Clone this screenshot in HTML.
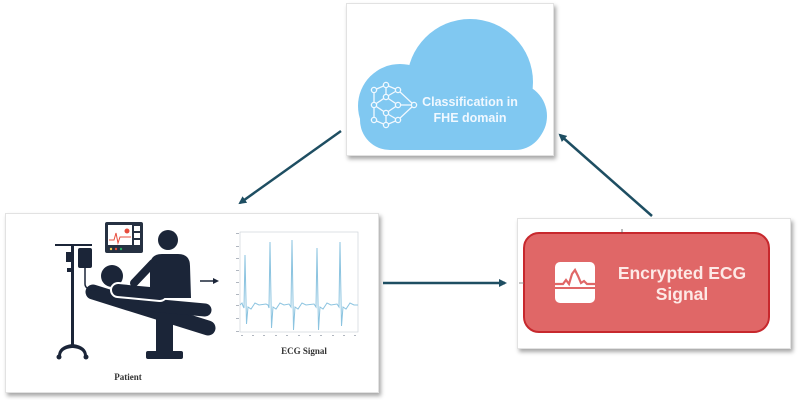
<!DOCTYPE html>
<html><head><meta charset="utf-8"><style>
html,body{margin:0;padding:0;width:800px;height:400px;background:#fff;overflow:hidden}
.box{position:absolute;background:#fff;border:1px solid #e2e2e2;box-shadow:2px 3px 4px rgba(0,0,0,0.35)}
svg{position:absolute;left:0;top:0}
</style></head><body>
<div class="box" style="left:346px;top:3px;width:206px;height:151px"></div>
<div class="box" style="left:5px;top:213px;width:372px;height:178px"></div>
<div class="box" style="left:517px;top:218px;width:272px;height:129px"></div>
<svg width="800" height="400" viewBox="0 0 800 400" xmlns="http://www.w3.org/2000/svg">
<defs>
<marker id="ah" markerWidth="8" markerHeight="8" refX="6" refY="4" orient="auto" markerUnits="userSpaceOnUse">
<path d="M0,0 L8,4 L0,8 Z" fill="#1e4e62"/></marker>
</defs>
<!-- Cloud -->
<g fill="#80c8f1">
<circle cx="470" cy="82" r="63"/>
<circle cx="400" cy="106" r="42"/>
<circle cx="514" cy="116" r="33"/>
<circle cx="390" cy="120" r="30"/>
<rect x="390" y="100" width="125" height="50"/>
<circle cx="515" cy="120" r="30"/>
</g>
<!-- NN icon -->
<g stroke="#f2f9ff" stroke-width="1.3" fill="none">
<path d="M374,90 L386,85 L398,90 L414,105 L398,120 L386,125 L374,120 M374,105 L386,97 L398,90 M374,105 L386,113 L398,120 M386,85 L386,97 M386,113 L386,125 M374,90 L374,105 L374,120 M386,97 L398,105 L386,113 M398,105 L414,105"/>
<g fill="#80c8f1">
<circle cx="374" cy="90" r="2.6"/><circle cx="374" cy="105" r="2.6"/><circle cx="374" cy="120" r="2.6"/>
<circle cx="386" cy="85" r="2.6"/><circle cx="386" cy="97" r="2.6"/><circle cx="386" cy="113" r="2.6"/><circle cx="386" cy="125" r="2.6"/>
<circle cx="398" cy="90" r="2.6"/><circle cx="398" cy="105" r="2.6"/><circle cx="398" cy="120" r="2.6"/>
<circle cx="414" cy="105" r="2.6"/>
</g></g>
<g font-family="Liberation Sans, sans-serif" font-weight="bold" font-size="12.5" fill="#f0f8ff" text-anchor="middle">
<text x="470" y="106">Classification in</text>
<text x="470" y="122">FHE domain</text>
</g>

<!-- Arrows -->
<g stroke="#1e4e62" stroke-width="2.5" fill="none">
<line x1="341" y1="131" x2="240" y2="203" marker-end="url(#ah)"/>
<line x1="652" y1="216" x2="560" y2="135" marker-end="url(#ah)"/>
<line x1="383" y1="283" x2="505" y2="283" marker-end="url(#ah)"/>
</g>
<line x1="200" y1="281" x2="214" y2="281" stroke="#1b2538" stroke-width="1.5"/>
<path d="M213,278 L219,281 L213,284 Z" fill="#1b2538"/>

<!-- Patient scene -->
<g fill="#1b2538" stroke="none">
<rect x="71" y="244" width="3" height="104"/>
<rect x="55" y="244" width="37" height="2"/>
<rect x="78" y="248" width="14" height="20" rx="2"/>
<rect x="66" y="252" width="7" height="10"/>
<rect x="67" y="268" width="6" height="4"/>
<path d="M72,344 Q58,346 58,356 L61,356 Q61,349 72,348 Z"/>
<path d="M73,344 Q87,346 87,356 L84,356 Q84,349 73,348 Z"/>
<circle cx="59" cy="357" r="2.5"/><circle cx="86" cy="357" r="2.5"/>
<rect x="105" y="222" width="38" height="31" rx="2" fill="#263142"/>
<rect x="108" y="225" width="24" height="20" fill="#fff"/>
<rect x="134" y="226" width="6" height="5" fill="#fff"/><rect x="134" y="233" width="6" height="5" fill="#fff"/><rect x="134" y="240" width="6" height="5" fill="#fff"/>
<circle cx="111" cy="249" r="1.2" fill="#f2c94c"/><circle cx="116" cy="249" r="1.2" fill="#e74c3c"/><circle cx="121" cy="249" r="1.2" fill="#27ae60"/>
<path d="M93,292 L208,328" stroke="#1b2538" stroke-width="15" stroke-linecap="round"/>
<path d="M150,305 L205,310" stroke="#1b2538" stroke-width="13" stroke-linecap="round"/>
<rect x="156" y="318" width="17" height="36"/>
<rect x="146" y="351" width="37" height="8" rx="2"/>
<circle cx="112" cy="276" r="11"/>
<path d="M118,290 L160,294" stroke="#fff" stroke-width="16" stroke-linecap="round"/>
<path d="M118,290 L160,294" stroke="#1b2538" stroke-width="12" stroke-linecap="round"/>
<circle cx="168" cy="240" r="10"/>
<path d="M150,298 L150,266 Q150,254 162,254 L178,254 Q190,254 190,266 L191,298 Z"/>
<path d="M153,263 L134,283" stroke="#1b2538" stroke-width="8" stroke-linecap="round"/>
</g>
<path d="M109,240 L114,240 L116,233 L118,243 L120,237 L131,237" stroke="#e74c3c" stroke-width="1" fill="none"/>
<circle cx="127" cy="231" r="2.5" fill="#e74c3c"/>
<path d="M85,268 L85,284 Q85,290 97,290" stroke="#1b2538" stroke-width="1.5" fill="none"/>

<!-- ECG chart -->
<rect x="240" y="232" width="118" height="100" fill="none" stroke="#c8cdd4" stroke-width="0.6"/>
<g fill="#b0b6bf">
<rect x="236" y="233" width="3" height="1"/><rect x="236" y="246" width="3" height="1"/><rect x="236" y="258" width="3" height="1"/><rect x="236" y="270" width="3" height="1"/><rect x="236" y="282" width="3" height="1"/><rect x="236" y="294" width="3" height="1"/><rect x="236" y="305" width="3" height="1"/><rect x="236" y="318" width="3" height="1"/><rect x="236" y="331" width="3" height="1"/>
<rect x="241" y="335" width="2" height="1"/><rect x="252" y="335" width="2" height="1"/><rect x="263" y="335" width="2" height="1"/><rect x="275" y="335" width="2" height="1"/><rect x="286" y="335" width="2" height="1"/><rect x="298" y="335" width="2" height="1"/><rect x="309" y="335" width="2" height="1"/><rect x="320" y="335" width="2" height="1"/><rect x="332" y="335" width="2" height="1"/><rect x="343" y="335" width="2" height="1"/><rect x="354" y="335" width="2" height="1"/>
</g>
<path d="M240,305 L242,303 L243,306 L244,308 L245,255 L246.5,324 L248,307 L251,309 L255,303 L259,305 L266,304 L268,305 L269,308 L270,242 L271.5,328 L273,307 L276,309 L280,303 L284,305 L289,304 L291,307 L292,240 L293.5,330 L295,307 L298,309 L302,303 L306,305 L314,304 L316,307 L317,248 L318.5,330 L320,307 L323,309 L327,303 L331,305 L337,304 L339,307 L340,242 L341.5,326 L343,307 L346,309 L350,303 L354,305 L358,305" stroke="#8cc4e0" stroke-width="1" fill="none"/>
<g font-family="Liberation Serif, serif" font-weight="bold" fill="#333" text-anchor="middle">
<text x="304" y="354" font-size="9">ECG Signal</text>
<text x="128" y="380" font-size="9">Patient</text>
</g>

<!-- Encrypted box -->
<rect x="524" y="233" width="245" height="99" rx="15" fill="#e06767" stroke="#c7282d" stroke-width="2"/>
<rect x="555" y="262" width="40" height="41" rx="5" fill="#fff"/>
<path d="M555,284 L563,284 L566,280 L569,284 L572,274 L575,270 L578,276 L581,283 L584,281 L587,284 L595,284" stroke="#e06767" stroke-width="2.2" fill="none"/>
<rect x="555" y="287" width="40" height="2" fill="#e06767"/>
<g font-family="Liberation Sans, sans-serif" font-weight="bold" font-size="17.5" fill="#fde9e6" text-anchor="middle">
<text x="682" y="279">Encrypted ECG</text>
<text x="682" y="300">Signal</text>
</g>
<line x1="622" y1="229" x2="622" y2="233" stroke="#555" stroke-width="0.8"/>
<line x1="519" y1="283" x2="524" y2="283" stroke="#777" stroke-width="0.8"/>
</svg>
</body></html>
